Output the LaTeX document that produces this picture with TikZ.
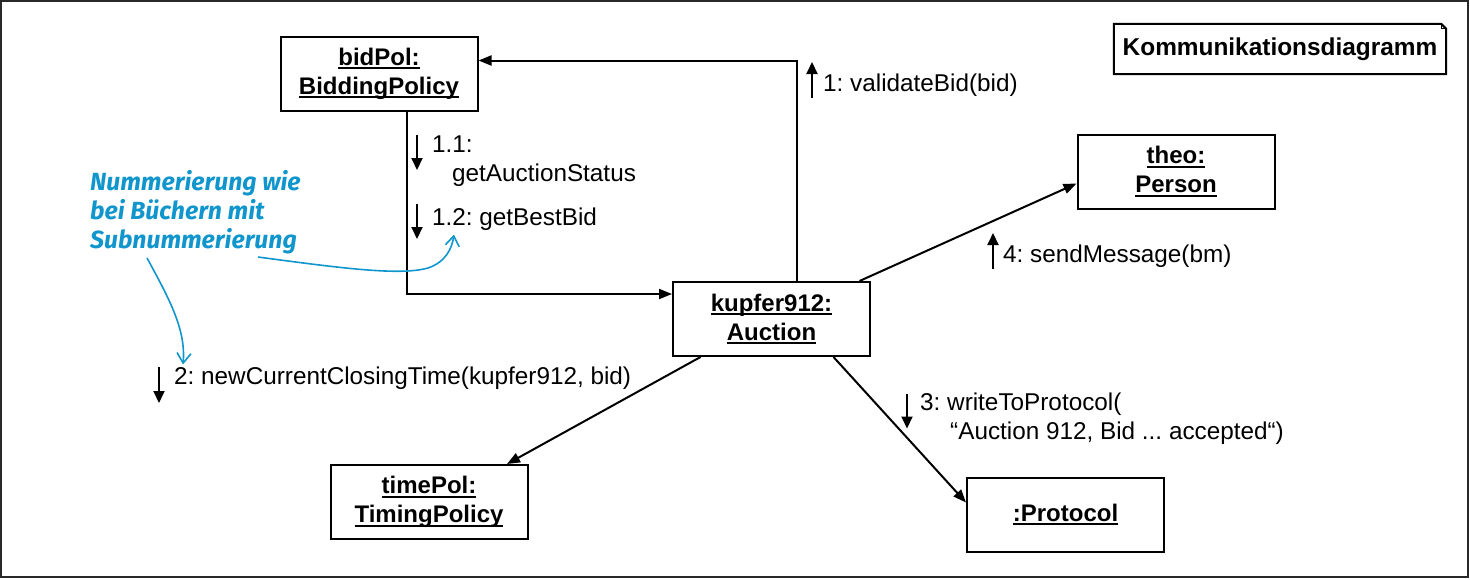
\documentclass[tikz,border=0pt]{standalone}
\usepackage{fontspec}
\setmainfont{Liberation Sans}
\newfontfamily\hintfont{Fira Sans}
\usepackage{xcolor}
\usetikzlibrary{arrows.meta}
\definecolor{hintblue}{RGB}{16,150,205}
\definecolor{framegray}{RGB}{40,40,40}
\frenchspacing
\newcommand{\objul}[1]{\setbox0\hbox{#1}\rlap{\rule[-4pt]{\wd0}{2pt}}\box0}
\tikzset{
  obj/.style={draw, line width=2pt, minimum width=197pt, minimum height=74pt, align=center,
    font=\fontsize{24}{29}\selectfont\bfseries},
  msgtext/.style={anchor=west, align=left, inner sep=0pt, font=\fontsize{24.3}{29}\selectfont},
  link/.style={line width=2pt, -{Triangle[length=13pt,width=10pt]}},
  msg/.style={line width=2pt, -{Triangle[length=12pt,width=11pt]}},
  hint/.style={hintblue, line width=1.6pt, -{Straight Barb[length=10pt,width=14pt]}},
}
\begin{document}
\begin{tikzpicture}[x=1pt,y=-1pt]
\useasboundingbox (0,0) rectangle (1470,579);
\draw[framegray, line width=2.5pt] (1,1) rectangle (1468,577);

\node[obj] (bidPol) at (379,73.5) {\objul{bidPol:}\\\objul{BiddingPolicy}};
\node[obj] (kupfer) at (771.5,319) {\objul{kupfer912:}\\\objul{Auction}};
\node[obj] (theo) at (1176,171.5) {\objul{theo:}\\\objul{Person}};
\node[obj] (timePol) at (429,502) {\objul{timePol:}\\\objul{TimingPolicy}};
\node[obj] (protocol) at (1065.5,514.5) {\objul{:Protocol}};

\node[minimum width=332pt, minimum height=50pt, font=\fontsize{24.4}{29}\selectfont\bfseries]
  (title) at (1280,49) {Kommunikationsdiagramm};
\draw[line width=2pt] (title.south west) -- (title.north west) -- ([xshift=-5pt]title.north east)
  -- ([yshift=-5pt]title.north east) -- (title.south east) -- cycle;
\draw[line width=1pt] ([xshift=-5pt]title.north east) -- ([xshift=-5pt,yshift=-5pt]title.north east)
  -- ([yshift=-5pt]title.north east);

\draw[link] ([xshift=25pt]kupfer.north) |- ([yshift=13pt]bidPol.east);
\draw[link] ([xshift=28pt]bidPol.south) |- ([yshift=25pt]kupfer.west);
\draw[link] ([xshift=88pt]kupfer.north) -- ([yshift=-12pt]theo.west);
\draw[link] ([xshift=-71pt]kupfer.south) -- ([xshift=78pt]timePol.north);
\draw[link] ([xshift=62pt]kupfer.south) -- ([yshift=12pt]protocol.west);

\node[msgtext] (m1) at (823,85) {1: validateBid(bid)};
\node[msgtext] (m11) at (432,161) {1.1:\\\hspace*{20pt}getAuctionStatus};
\node[msgtext] (m12) at (432,219) {1.2: getBestBid};
\node[msgtext] (m2) at (174,378) {2: newCurrentClosingTime(kupfer912, bid)};
\node[msgtext] (m3) at (920,418.5) {3: writeToProtocol(\\\hspace*{30pt}“Auction 912, Bid ... accepted“)};
\node[msgtext] (m4) at (1003,256) {4: sendMessage(bm)};

\draw[msg] ([shift={(-11pt,-13pt)}]m1.west) -- ([shift={(-11pt,23pt)}]m1.west);
\draw[msg] ([shift={(-15pt,26pt)}]m11.west) -- ([shift={(-15pt,-9pt)}]m11.west);
\draw[msg] ([shift={(-15pt,15pt)}]m12.west) -- ([shift={(-15pt,-20pt)}]m12.west);
\draw[msg] ([shift={(-15pt,11pt)}]m2.west) -- ([shift={(-15pt,-25pt)}]m2.west);
\draw[msg] ([shift={(-13pt,25pt)}]m3.west) -- ([shift={(-13pt,-10pt)}]m3.west);
\draw[msg] ([shift={(-10pt,-13pt)}]m4.west) -- ([shift={(-10pt,23pt)}]m4.west);

\node[anchor=west, align=left, inner sep=0pt, text=hintblue,
  font=\hintfont\fontsize{24.8}{29}\selectfont\bfseries\itshape]
  (hinttext) at (90,212) {Nummerierung wie\\bei Büchern mit\\Subnummerierung};
\coordinate (h1) at (258,257);
\coordinate (h2) at (147,258);
\draw[hint] (h1) .. controls (340,268) and (400,276) .. (428,268)
  .. controls (446,262) and (452,248) .. ([xshift=22pt,yshift=-4pt]m12.south west);
\draw[hint] (h2) .. controls (170,300) and (186,330) .. ([xshift=9pt,yshift=2pt]m2.north west);
\end{tikzpicture}
\end{document}
